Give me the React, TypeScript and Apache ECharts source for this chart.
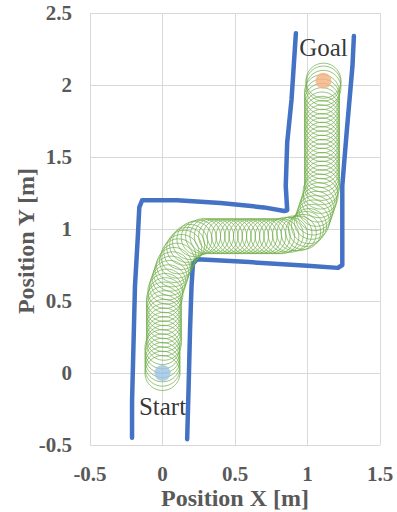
import React, { useEffect, useRef } from "react";
import * as echarts from "echarts";

// Tick values
const xTicks = [-0.5, 0, 0.5, 1, 1.5];
const yTicks = [-0.5, 0, 0.5, 1, 1.5, 2, 2.5];
const xName = "Position X [m]";
const yName = "Position Y [m]";

// Measured wall outlines [x, y] in metres
const wallLeft: number[][] = [
  [-0.21, -0.45], [-0.21, -0.2], [-0.2, 0.2], [-0.19, 0.6], [-0.17, 0.95], [-0.16, 1.15],
  [-0.14, 1.2], [0.1, 1.2], [0.4, 1.18], [0.7, 1.15], [0.84, 1.125], [0.86, 1.13],
  [0.85, 1.3], [0.86, 1.6], [0.89, 1.9], [0.92, 2.36],
];
const wallRight: number[][] = [
  [0.17, -0.46], [0.18, -0.1], [0.19, 0.3], [0.2, 0.6], [0.21, 0.76], [0.24, 0.79],
  [0.6, 0.77], [1.0, 0.745], [1.21, 0.73], [1.24, 0.75], [1.24, 1.3], [1.27, 1.67],
  [1.31, 2.13], [1.32, 2.34],
];

// Robot footprint centres along the travelled path
const footprints: number[][] = [
  [0.0, 0.0], [0.0, 0.03], [0.0, 0.06], [0.0, 0.09], [0.0, 0.12], [0.0, 0.15], [0.0, 0.18],
  [0.01, 0.21], [0.01, 0.24], [0.01, 0.27], [0.01, 0.3], [0.01, 0.33], [0.01, 0.36],
  [0.01, 0.39], [0.01, 0.42], [0.01, 0.45], [0.01, 0.48], [0.01, 0.51], [0.02, 0.54],
  [0.02, 0.57], [0.03, 0.6], [0.04, 0.63], [0.05, 0.66], [0.06, 0.69], [0.07, 0.72],
  [0.08, 0.75], [0.1, 0.78], [0.11, 0.81], [0.13, 0.84], [0.15, 0.87], [0.17, 0.89],
  [0.19, 0.91], [0.22, 0.93], [0.25, 0.94], [0.28, 0.95], [0.31, 0.95], [0.34, 0.95],
  [0.37, 0.95], [0.4, 0.95], [0.43, 0.95], [0.46, 0.95], [0.49, 0.95], [0.52, 0.95],
  [0.55, 0.95], [0.58, 0.95], [0.61, 0.95], [0.64, 0.95], [0.67, 0.95], [0.7, 0.95],
  [0.73, 0.95], [0.76, 0.95], [0.79, 0.95], [0.82, 0.95], [0.85, 0.96], [0.88, 0.96],
  [0.91, 0.97], [0.94, 0.97], [0.97, 0.98], [0.99, 1.0], [1.01, 1.02], [1.03, 1.05],
  [1.04, 1.08], [1.05, 1.11], [1.06, 1.14], [1.07, 1.17], [1.08, 1.2], [1.09, 1.23],
  [1.09, 1.26], [1.1, 1.29], [1.1, 1.32], [1.1, 1.35], [1.1, 1.38], [1.1, 1.41],
  [1.1, 1.44], [1.1, 1.47], [1.1, 1.5], [1.1, 1.53], [1.1, 1.56], [1.1, 1.59],
  [1.1, 1.62], [1.1, 1.65], [1.1, 1.68], [1.1, 1.71], [1.1, 1.74], [1.1, 1.77],
  [1.1, 1.8], [1.1, 1.83], [1.1, 1.86], [1.1, 1.89], [1.1, 1.92], [1.1, 1.95],
  [1.11, 1.98], [1.11, 2.01], [1.11, 2.03],
];

const startPoint = [0.0, 0.0];
const goalPoint = [1.11, 2.03];
const startName = "Start";
const goalName = "Goal";

const FONT = "'Liberation Serif', 'Times New Roman', serif";

export default function App() {
  const ref = useRef<HTMLDivElement>(null);
  useEffect(() => {
    if (!ref.current) return;
    const chart = echarts.init(ref.current, undefined, { renderer: "svg" });
    const axisLabel = {
      fontFamily: FONT,
      fontWeight: "bold" as const,
      fontSize: 21,
      color: "#595959",
    };
    const nameStyle = {
      fontFamily: FONT,
      fontWeight: "bold" as const,
      fontSize: 24,
      color: "#595959",
    };
    const wallStyle = { color: "#4472C4", width: 4.5, join: "round" as const, cap: "round" as const };
    chart.setOption({
      animation: false,
      backgroundColor: "#ffffff",
      grid: { left: 90, right: 17, top: 13, bottom: 67, containLabel: false, outerBoundsMode: "none" },
      graphic: [
        {
          type: "text",
          x: 26,
          y: 241,
          rotation: Math.PI / 2,
          style: {
            text: yName,
            align: "center",
            verticalAlign: "middle",
            font: `bold 24px ${FONT}`,
            fill: "#595959",
          },
        },
      ],
      xAxis: {
        type: "value",
        min: xTicks[0],
        max: xTicks[xTicks.length - 1],
        interval: 0.5,
        name: xName,
        nameLocation: "middle",
        nameGap: 41,
        nameMoveOverlap: false,
        nameTextStyle: nameStyle,
        axisLine: { show: false },
        axisTick: { show: false },
        axisLabel: { ...axisLabel, margin: 18 },
        splitLine: { show: true, lineStyle: { color: "#D9D9D9", width: 1 } },
      },
      yAxis: {
        type: "value",
        min: yTicks[0],
        max: yTicks[yTicks.length - 1],
        interval: 0.5,
        axisLine: { show: false },
        axisTick: { show: false },
        axisLabel: { ...axisLabel, margin: 18 },
        splitLine: { show: true, lineStyle: { color: "#D9D9D9", width: 1 } },
      },
      series: [
        {
          type: "line",
          data: wallLeft,
          symbol: "none",
          lineStyle: wallStyle,
          z: 2,
        },
        {
          type: "line",
          data: wallRight,
          symbol: "none",
          lineStyle: wallStyle,
          z: 2,
        },
        {
          type: "scatter",
          data: footprints,
          symbol: "circle",
          symbolSize: 35,
          itemStyle: { color: "rgba(0,0,0,0)", borderColor: "#70AD47", borderWidth: 0.8, opacity: 0.9 },
          z: 3,
        },
        {
          type: "scatter",
          data: [{ value: startPoint, name: startName }],
          symbol: "circle",
          symbolSize: 16,
          itemStyle: { color: "#9DC3E6" },
          label: {
            show: true,
            formatter: "{b}",
            position: "bottom",
            distance: 13,
            fontFamily: FONT,
            fontSize: 25,
            color: "#000000",
          },
          z: 4,
        },
        {
          type: "scatter",
          data: [{ value: goalPoint, name: goalName }],
          symbol: "circle",
          symbolSize: 16,
          itemStyle: { color: "#F4B183" },
          label: {
            show: true,
            formatter: "{b}",
            position: "top",
            distance: 13,
            fontFamily: FONT,
            fontSize: 25,
            color: "#000000",
          },
          z: 4,
        },
      ],
    });
    return () => chart.dispose();
  }, []);
  return (
    <div
      ref={ref}
      style={{ position: "fixed", left: 0, top: 0, width: 397, height: 512, background: "#fff" }}
    />
  );
}
